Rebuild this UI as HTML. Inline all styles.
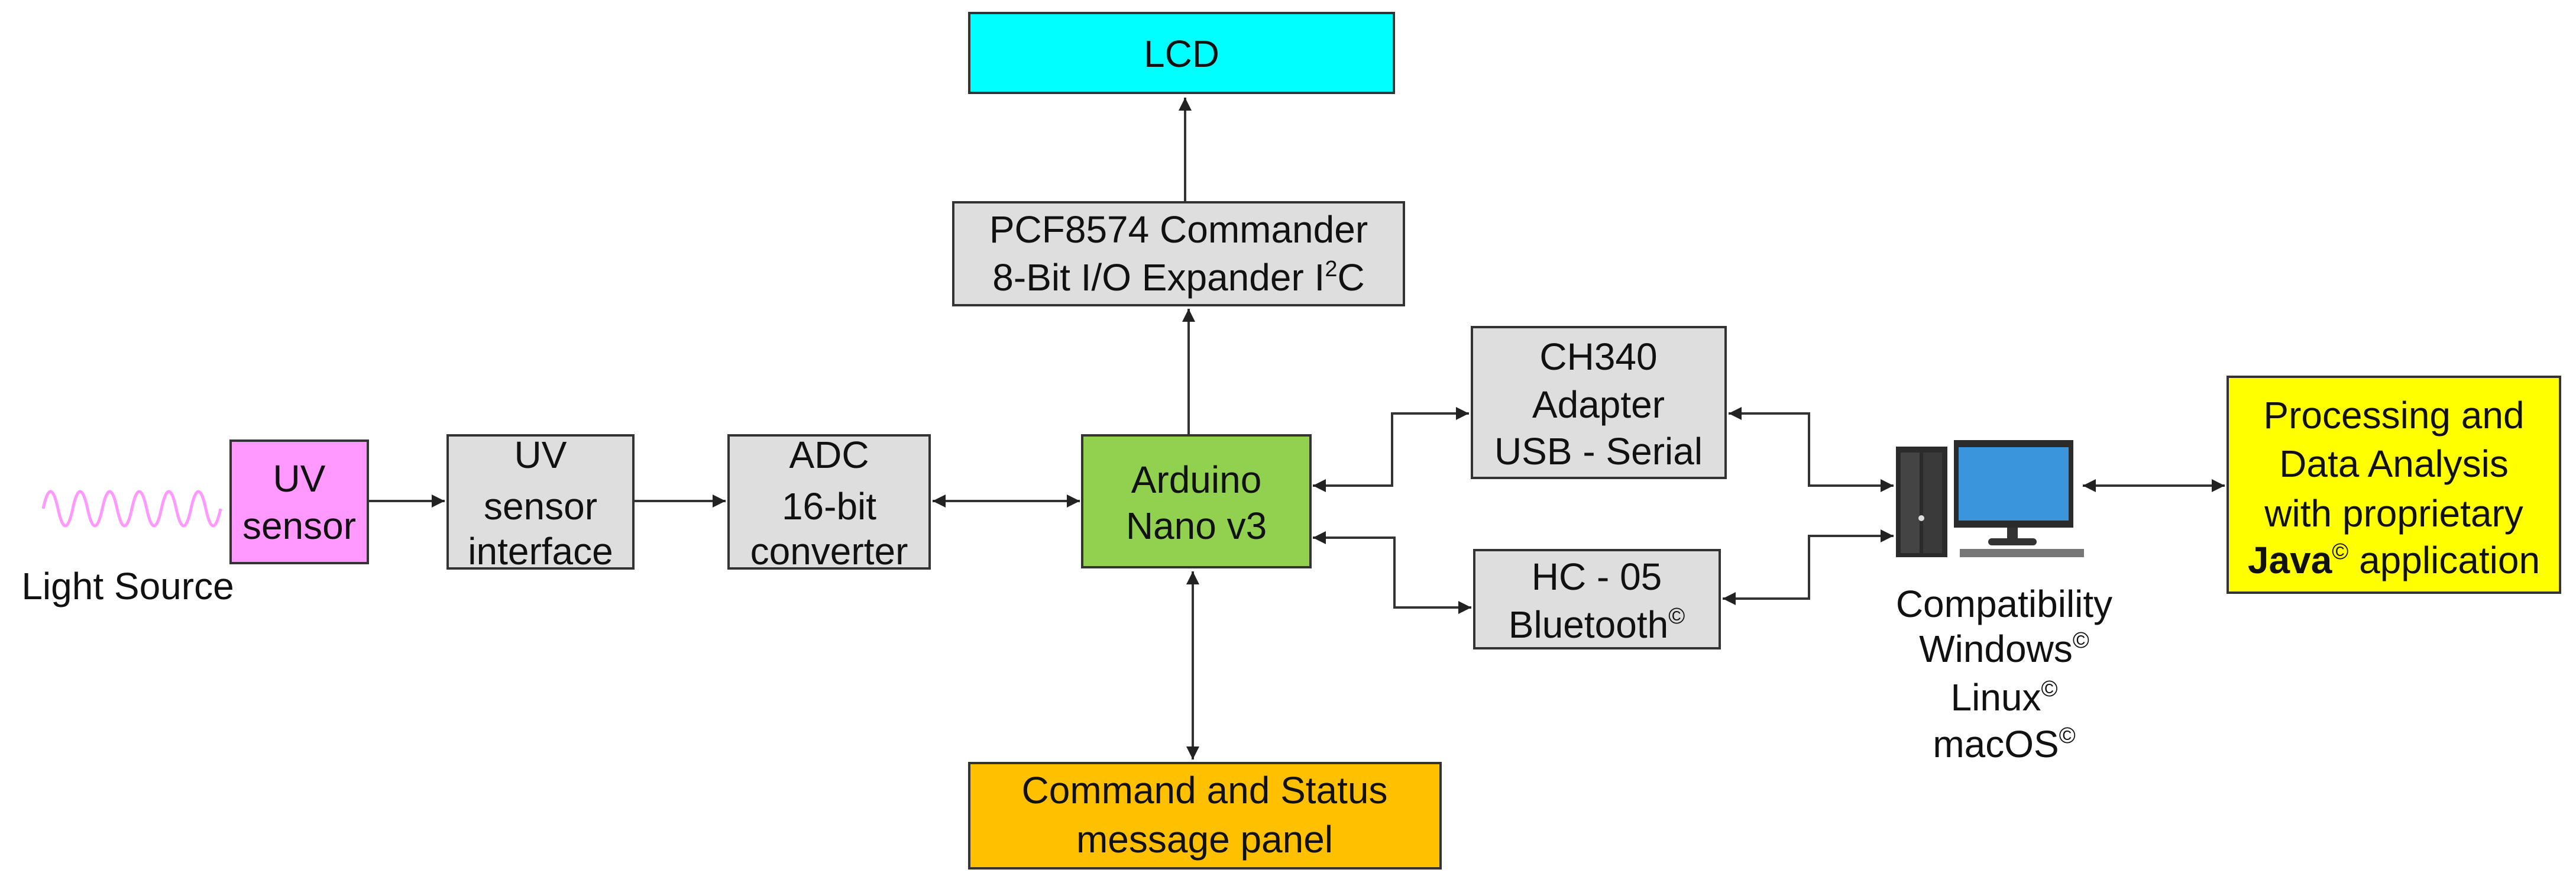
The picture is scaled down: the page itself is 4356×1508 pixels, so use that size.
<!DOCTYPE html>
<html><head><meta charset="utf-8"><style>html,body{margin:0;padding:0;background:#fff}svg{display:block}</style></head>
<body>
<svg width="4356" height="1508" viewBox="0 0 4356 1508" xmlns="http://www.w3.org/2000/svg" font-family="Liberation Sans, Arial, sans-serif" font-size="64" text-anchor="middle">
<defs>
<marker id="a" viewBox="0 0 10 10" refX="10" refY="5" markerWidth="5.5" markerHeight="5.5" orient="auto-start-reverse" markerUnits="strokeWidth"><path d="M0,0 L10,5 L0,10 z" fill="#222"/></marker>
</defs>
<rect width="4356" height="1508" fill="#fff"/>
<g stroke="#333" stroke-width="4">
<rect x="1639" y="22" width="718" height="135" fill="#00ffff"/>
<rect x="1612" y="342" width="762" height="174" fill="#dedede"/>
<rect x="390" y="745" width="232" height="207" fill="#ff99ff"/>
<rect x="757" y="736" width="314" height="225" fill="#dedede"/>
<rect x="1232" y="736" width="340" height="225" fill="#dedede"/>
<rect x="1830" y="736" width="386" height="223" fill="#92d050"/>
<rect x="1639" y="1290" width="797" height="178" fill="#ffc000"/>
<rect x="2489" y="553" width="429" height="255" fill="#dedede"/>
<rect x="2493" y="930" width="415" height="166" fill="#dedede"/>
<rect x="3767" y="637" width="562" height="365" fill="#ffff00"/>
</g>
<g stroke="#333" stroke-width="4" fill="none">
<line x1="2004" y1="342" x2="2004" y2="165" marker-end="url(#a)"/>
<line x1="2010" y1="736" x2="2010" y2="522" marker-end="url(#a)"/>
<line x1="2017" y1="966" x2="2017" y2="1284" marker-start="url(#a)" marker-end="url(#a)"/>
<line x1="622" y1="847" x2="752" y2="847" marker-end="url(#a)"/>
<line x1="1071" y1="847" x2="1227" y2="847" marker-end="url(#a)"/>
<line x1="1577" y1="847" x2="1826" y2="847" marker-start="url(#a)" marker-end="url(#a)"/>
<polyline points="2220,821 2354,821 2354,699 2484,699" marker-start="url(#a)" marker-end="url(#a)"/>
<polyline points="2923,699 3059,699 3059,821 3202,821" marker-start="url(#a)" marker-end="url(#a)"/>
<polyline points="2220,909 2358,909 2358,1027 2488,1027" marker-start="url(#a)" marker-end="url(#a)"/>
<polyline points="2913,1012 3059,1012 3059,906 3202,906" marker-start="url(#a)" marker-end="url(#a)"/>
<line x1="3522" y1="821" x2="3762" y2="821" marker-start="url(#a)" marker-end="url(#a)"/>
</g>
<path d="M73,860 q12.5,-58 25,0 t25,0 t25,0 t25,0 t25,0 t25,0 t25,0 t25,0 t25,0 t25,0 t25,0 t25,0" fill="none" stroke="#ff99ff" stroke-width="5"/>
<!-- computer -->
<rect x="3206" y="755" width="87" height="187" fill="#2b2b2b"/>
<rect x="3214" y="765" width="32" height="170" fill="#444"/>
<rect x="3252" y="765" width="32" height="170" fill="#3a3a3a"/>
<circle cx="3249" cy="876" r="5" fill="#ddd"/>
<rect x="3304" y="744" width="202" height="148" fill="#2b2b2b"/>
<rect x="3312" y="756" width="186" height="124" fill="#3a95dd"/>
<rect x="3394" y="892" width="18" height="20" fill="#333"/>
<rect x="3362" y="910" width="82" height="12" rx="6" fill="#333"/>
<rect x="3314" y="928" width="210" height="14" fill="#777"/>
<g fill="#111">
<text x="1998" y="113">LCD</text>
<text x="1993" y="410">PCF8574 Commander</text>
<text x="1993" y="491">8-Bit I/O Expander I<tspan font-size="38" dy="-24">2</tspan><tspan dy="24">C</tspan></text>
<text x="506" y="831">UV</text>
<text x="506" y="911">sensor</text>
<text x="914" y="791">UV</text>
<text x="914" y="878">sensor</text>
<text x="914" y="958" dy="-4">interface</text>
<text x="1402" y="791">ADC</text>
<text x="1402" y="878">16-bit</text>
<text x="1402" y="954">converter</text>
<text x="2023" y="833">Arduino</text>
<text x="2023" y="911">Nano v3</text>
<text x="2037" y="1358">Command and Status</text>
<text x="2037" y="1441">message panel</text>
<text x="2703" y="625">CH340</text>
<text x="2703" y="706">Adapter</text>
<text x="2703" y="785">USB - Serial</text>
<text x="2700" y="997">HC - 05</text>
<text x="2700" y="1078">Bluetooth<tspan font-size="38" dy="-24">©</tspan></text>
<text x="4048" y="724">Processing and</text>
<text x="4048" y="806">Data Analysis</text>
<text x="4048" y="890">with proprietary</text>
<text x="4048" y="969"><tspan font-weight="bold">Java</tspan><tspan font-size="38" dy="-24">©</tspan><tspan dy="24"> application</tspan></text>
<text x="3389" y="1043">Compatibility</text>
<text x="3389" y="1119">Windows<tspan font-size="38" dy="-24">©</tspan></text>
<text x="3389" y="1201">Linux<tspan font-size="38" dy="-24">©</tspan></text>
<text x="3389" y="1280">macOS<tspan font-size="38" dy="-24">©</tspan></text>
<text x="216" y="1013">Light Source</text>
</g>
</svg>
</body></html>
